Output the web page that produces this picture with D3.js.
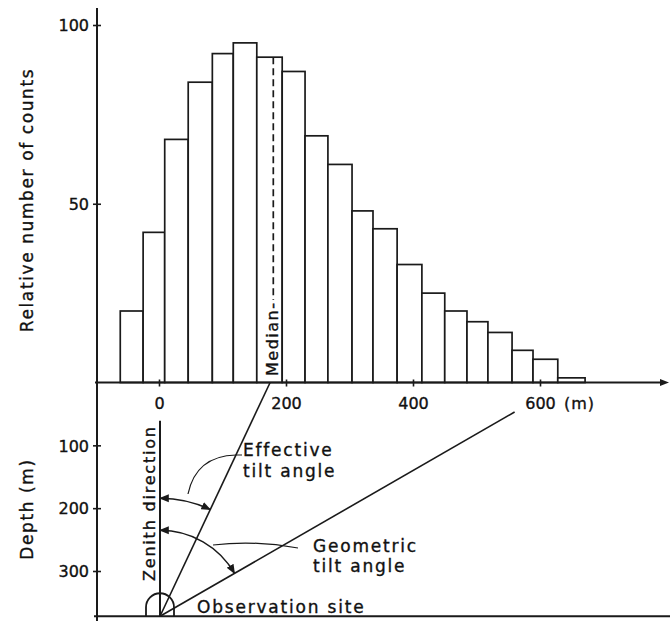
<!DOCTYPE html>
<html>
<head>
<meta charset="utf-8">
<script src="https://cdn.jsdelivr.net/npm/d3@7/dist/d3.min.js"></script>
<style>
  html, body { margin: 0; padding: 0; background: #fff; }
  svg { display: block; }
  text { font-family: "DejaVu Sans", sans-serif; fill: #111; stroke: #111; stroke-width: 0.35px; }
</style>
</head>
<body>
<svg id="chart" width="670" height="623"></svg>
<script>
// ---------------- data ----------------
// histogram bin edges (horizontal distance, m)
const binEdges = [-61, -25, 9, 46, 84, 117, 154, 194, 230, 266, 304, 337, 375, 414, 450, 485, 518, 556, 589, 628, 671];
// relative number of counts per bin
const counts = [20, 42, 68, 84, 92, 95, 91, 87, 69, 61, 48, 43, 33, 25, 20, 17, 14, 9, 6.5, 1.3];
const countTicks = [50, 100];
const distanceTicks = [0, 200, 400, 600];
const depthTicks = [100, 200, 300];
const medianDistance = 180;           // m
const siteDepth = 372;                // m, observation site
const zenithTopDepth = 61;            // m
const effectiveTarget = [175, 0];     // [distance, depth]
const geometricTarget = [560, 47];    // [distance, depth]

// ---------------- scales ----------------
const svg = d3.select("#chart");
const axisX = 97;
const x = d3.scaleLinear().domain([0, 600]).range([159, 540]);
const y = d3.scaleLinear().domain([0, 100]).range([382.5, 25]);
const depth = d3.scaleLinear().domain([0, 300]).range([382.5, 571]);

const ink = "#1a1a1a";

// ---------------- histogram ----------------
svg.append("g").selectAll("rect")
  .data(counts)
  .join("rect")
  .attr("x", (d, i) => x(binEdges[i]))
  .attr("width", (d, i) => x(binEdges[i + 1]) - x(binEdges[i]))
  .attr("y", d => y(d))
  .attr("height", d => y(0) - y(d))
  .attr("fill", "#fff")
  .attr("stroke", ink)
  .attr("stroke-width", 1.7);

// median dashed line
const medianBin = binEdges.findIndex((e, i) => medianDistance >= e && medianDistance < binEdges[i + 1]);
svg.append("line")
  .attr("x1", x(medianDistance)).attr("x2", x(medianDistance))
  .attr("y1", y(counts[medianBin])).attr("y2", 300)
  .attr("stroke", ink).attr("stroke-width", 1.7)
  .attr("stroke-dasharray", "7,4");
svg.append("text")
  .attr("transform", `translate(${x(medianDistance) + 5},376) rotate(-90)`)
  .attr("font-size", 16).attr("letter-spacing", 1.5)
  .text("Median-");

// ---------------- axes ----------------
svg.append("line")
  .attr("x1", axisX).attr("x2", axisX)
  .attr("y1", 8).attr("y2", 621)
  .attr("stroke", ink).attr("stroke-width", 2);
svg.append("line")
  .attr("x1", axisX - 2).attr("x2", 664)
  .attr("y1", y(0)).attr("y2", y(0))
  .attr("stroke", ink).attr("stroke-width", 2);
svg.append("path")
  .attr("d", `M669,${y(0)} L660,${y(0) - 3.5} L660,${y(0) + 3.5} Z`)
  .attr("fill", ink);
svg.append("line")
  .attr("x1", axisX - 3).attr("x2", 670)
  .attr("y1", depth(siteDepth)).attr("y2", depth(siteDepth))
  .attr("stroke", ink).attr("stroke-width", 2);

const yAxis = svg.append("g")
  .attr("transform", `translate(${axisX},0)`)
  .call(d3.axisLeft(y).tickValues(countTicks).tickSize(4).tickPadding(4));
const dAxis = svg.append("g")
  .attr("transform", `translate(${axisX},0)`)
  .call(d3.axisLeft(depth).tickValues(depthTicks).tickSize(4).tickPadding(4));
const xAxis = svg.append("g")
  .attr("transform", `translate(0,${y(0)})`)
  .call(d3.axisBottom(x).tickValues(distanceTicks).tickSize(4).tickPadding(10));

[yAxis, dAxis].forEach(g => {
  g.select(".domain").remove();
  g.selectAll(".tick line").attr("x1", 4).attr("x2", -4).attr("stroke", ink).attr("stroke-width", 1.6);
  g.selectAll(".tick text").attr("font-size", 16).attr("font-family", "DejaVu Sans").attr("fill", ink).attr("dy", "0.36em");
});
xAxis.select(".domain").remove();
xAxis.selectAll(".tick line").attr("y1", -3).attr("y2", 4).attr("stroke", ink).attr("stroke-width", 1.6);
xAxis.selectAll(".tick text").attr("font-size", 16).attr("font-family", "DejaVu Sans").attr("fill", ink).attr("dy", "0.8em");

svg.append("text")
  .attr("x", 564).attr("y", 409)
  .attr("font-size", 16).attr("letter-spacing", 1)
  .text("(m)");

svg.append("text")
  .attr("transform", "translate(33,200) rotate(-90)")
  .attr("text-anchor", "middle")
  .attr("font-size", 17).attr("letter-spacing", 1.6)
  .text("Relative number of counts");
svg.append("text")
  .attr("transform", "translate(33,509) rotate(-90)")
  .attr("text-anchor", "middle")
  .attr("font-size", 17).attr("letter-spacing", 1.6)
  .text("Depth (m)");

// ---------------- lower diagram ----------------
const sx = x(0) + 1, sy = depth(siteDepth);
svg.append("line")
  .attr("x1", sx).attr("x2", sx)
  .attr("y1", depth(zenithTopDepth)).attr("y2", sy)
  .attr("stroke", ink).attr("stroke-width", 2);
svg.append("text")
  .attr("transform", `translate(${sx - 5},581) rotate(-90)`)
  .attr("font-size", 16).attr("letter-spacing", 1.8)
  .text("Zenith direction");

const effEnd = [x(effectiveTarget[0]), depth(effectiveTarget[1])];
const geoEnd = [x(geometricTarget[0]), depth(geometricTarget[1])];
[effEnd, geoEnd].forEach(p => {
  svg.append("line")
    .attr("x1", sx).attr("y1", sy).attr("x2", p[0]).attr("y2", p[1])
    .attr("stroke", ink).attr("stroke-width", 1.6);
});

const archR = 14;
svg.append("path")
  .attr("d", `M${sx - archR},${sy} L${sx - archR},${sy - 9} A${archR},${archR} 0 0 1 ${sx + archR},${sy - 9} L${sx + archR},${sy}`)
  .attr("fill", "none").attr("stroke", ink).attr("stroke-width", 1.8);
svg.append("text")
  .attr("x", 197).attr("y", 613)
  .attr("font-size", 17).attr("letter-spacing", 1.8)
  .text("Observation site");

const defs = svg.append("defs");
defs.append("marker")
  .attr("id", "arrow").attr("viewBox", "0 0 10 10")
  .attr("refX", 9).attr("refY", 5)
  .attr("markerWidth", 7).attr("markerHeight", 7)
  .attr("orient", "auto-start-reverse")
  .append("path").attr("d", "M0,1 L10,5 L0,9 Z").attr("fill", ink);

function arcPath(r, endPt) {
  const ang = Math.atan2(endPt[0] - sx, sy - endPt[1]);
  const ex = sx + r * Math.sin(ang), ey = sy - r * Math.cos(ang);
  return `M${sx},${sy - r} A${r},${r} 0 0 1 ${ex},${ey}`;
}
svg.append("path").attr("d", arcPath(118, effEnd))
  .attr("fill", "none").attr("stroke", ink).attr("stroke-width", 1.4)
  .attr("marker-start", "url(#arrow)").attr("marker-end", "url(#arrow)");
svg.append("path").attr("d", arcPath(86, geoEnd))
  .attr("fill", "none").attr("stroke", ink).attr("stroke-width", 1.4)
  .attr("marker-start", "url(#arrow)").attr("marker-end", "url(#arrow)");

svg.append("path").attr("d", "M188,494 Q196,456 236,455 L242,455")
  .attr("fill", "none").attr("stroke", ink).attr("stroke-width", 1.2);
svg.append("path").attr("d", "M213,545 Q255,540 298,548")
  .attr("fill", "none").attr("stroke", ink).attr("stroke-width", 1.2);

const ann = [
  ["Effective", 243, 456], ["tilt angle", 243, 477],
  ["Geometric", 313, 552], ["tilt angle", 313, 572]
];
svg.append("g").selectAll("text").data(ann).join("text")
  .attr("x", d => d[1]).attr("y", d => d[2])
  .attr("font-size", 17).attr("letter-spacing", 1.8)
  .text(d => d[0]);
</script>
</body>
</html>
